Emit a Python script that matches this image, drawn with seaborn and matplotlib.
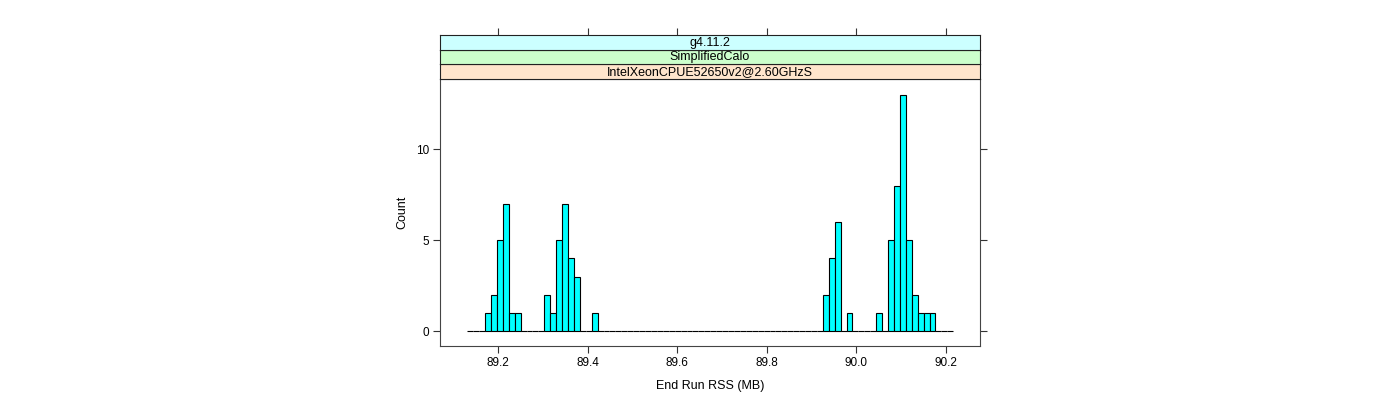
"""
End-of-run RSS histogram, one lattice-style panel with three strips.
"""

import matplotlib
matplotlib.use("Agg")
import matplotlib.pyplot as plt
import numpy  as np
import pandas as pd
import seaborn as sns

# ── Data ──────────────────────────────────────────────────────────────────────
break_lo   = 89.1309          # first histogram break (MB)
break_hi   = 90.2172          # last histogram break (MB)
n_bins     = 82

# non-empty bins: index into the breaks, and the count in that bin
bin_index  = [3, 4, 5, 6, 7, 8,
              13, 14, 15, 16, 17, 18, 21,
              60, 61, 62, 64,
              69, 71, 72, 73, 74, 75, 76, 77, 78]
bin_count  = [1, 2, 5, 7, 1, 1,
              2, 1, 5, 7, 4, 3, 1,
              2, 4, 6, 1,
              1, 5, 8, 13, 5, 2, 1, 1, 1]

strip_labels = ["IntelXeonCPUE52650v2@2.60GHzS", "SimplifiedCalo", "g4.11.2"]
strip_colors = ["#ffe5cc", "#ccffcc", "#ccffff"]

x_ticks  = [89.2, 89.4, 89.6, 89.8, 90.0, 90.2]
y_ticks  = [0, 5, 10]
x_label  = "End Run RSS (MB)"
y_label  = "Count"


def main():
    sns.set_theme(style="ticks")
    plt.rcParams["font.family"] = ["Liberation Sans", "DejaVu Sans"]
    plt.rcParams.update({"text.color": "black", "axes.labelcolor": "black",
                         "xtick.labelcolor": "black",
                         "ytick.labelcolor": "black"})

    breaks  = np.linspace(break_lo, break_hi, n_bins + 1)
    centers = (breaks[:-1] + breaks[1:]) / 2
    df = pd.DataFrame({
        "rss"  : centers[bin_index],
        "count": bin_count,
    })

    fig = plt.figure(figsize=(14, 4), dpi=100)
    W, H = 1400, 400
    left, right = 440, 980
    panel_top, panel_bot = 78.5, 346
    strip_top = 35

    ax = fig.add_axes([left / W, 1 - panel_bot / H,
                       (right - left) / W, (panel_bot - panel_top) / H])

    sns.histplot(data=df, x="rss", weights="count",
                 bins=n_bins, binrange=(break_lo, break_hi),
                 stat="count", color="#00ffff", edgecolor="black",
                 linewidth=0.8, alpha=1, ax=ax)

    xlim = (89.070, 90.277)
    ax.set_xlim(*xlim)
    ax.set_ylim(-0.82, 13.9)
    ax.set_xticks(x_ticks)
    ax.set_xticklabels([f"{t:.1f}" for t in x_ticks])
    ax.set_yticks(y_ticks)
    ax.tick_params(axis="both", direction="out", length=5, width=0.8,
                   color="#333333", labelsize=8.5, labelcolor="black", pad=3)
    ax.tick_params(axis="y", right=True)
    ax.tick_params(axis="x", top=False)
    for s in ax.spines.values():
        s.set_visible(True)
        s.set_color("#444444")
        s.set_linewidth(0.8)
    ax.set_xlabel(x_label, fontsize=9, labelpad=8, color="black")
    ax.set_ylabel(y_label, fontsize=9, labelpad=5, color="black")

    # ── Strips ────────────────────────────────────────────────────────────────
    strip_h = (panel_top - strip_top) / len(strip_labels)
    for i, (lab, col) in enumerate(zip(strip_labels, strip_colors)):
        y_bot = panel_top - i * strip_h
        sax = fig.add_axes([left / W, 1 - y_bot / H,
                            (right - left) / W, strip_h / H])
        sax.set_facecolor(col)
        sax.set_xlim(*xlim)
        sax.set_ylim(0, 1)
        sax.set_yticks([])
        if i == len(strip_labels) - 1:
            sax.set_xticks(x_ticks)
            sax.tick_params(axis="x", top=True, bottom=False,
                            labeltop=False, labelbottom=False,
                            direction="out", length=5, width=0.8,
                            color="#333333")
        else:
            sax.set_xticks([])
        for s in sax.spines.values():
            s.set_visible(True)
            s.set_color("#222222")
            s.set_linewidth(0.8)
        sax.text(0.5, 0.45, lab, transform=sax.transAxes,
                 ha="center", va="center", fontsize=9, color="black")

    fig.savefig("out.png", dpi=100, facecolor="white")
    plt.close(fig)


if __name__ == "__main__":
    main()
